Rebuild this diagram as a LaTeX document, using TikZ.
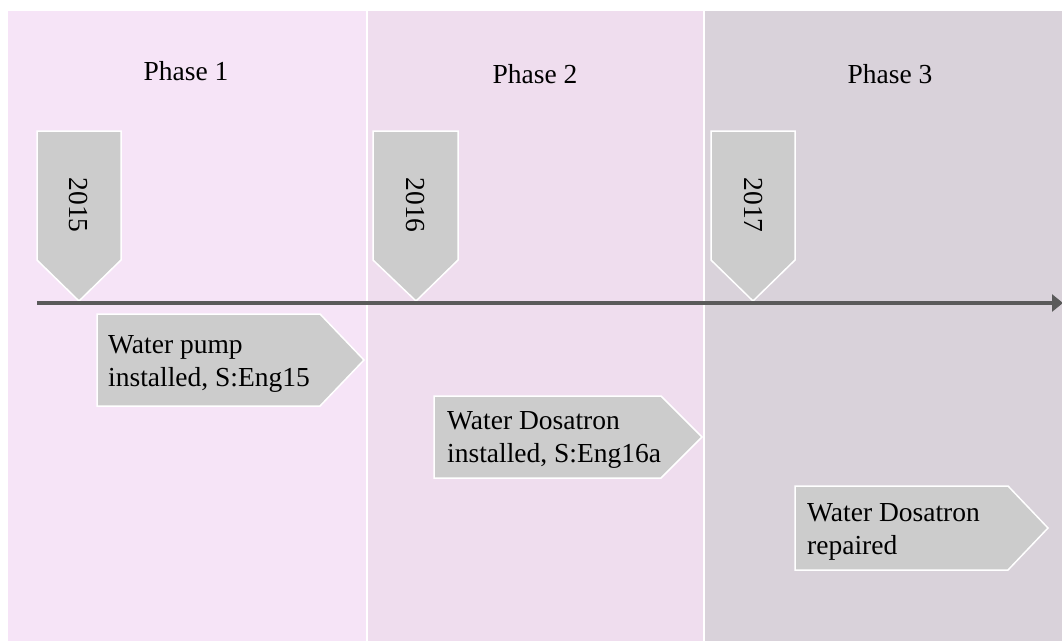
\documentclass[tikz,border=0pt]{standalone}
\usepackage{fontspec}
\setmainfont{Liberation Serif}
\usetikzlibrary{arrows.meta}

\definecolor{phaseA}{RGB}{246,228,247}
\definecolor{phaseB}{RGB}{239,221,238}
\definecolor{phaseC}{RGB}{217,210,218}
\definecolor{markfill}{RGB}{204,204,204}
\definecolor{axisgray}{RGB}{90,90,90}

\tikzset{
  phasebg/.style={fill=#1, draw=none},
  marker/.style={fill=markfill, draw=white, line width=1.5pt, line join=miter},
  phaselabel/.style={anchor=base, inner sep=0pt, font=\fontsize{27.5}{33}\selectfont},
  yearlabel/.style={rotate=-90, inner sep=0pt, font=\fontsize{27.5}{33}\selectfont},
  eventlabel/.style={anchor=north west, inner sep=0pt, align=left, font=\fontsize{27.5}{33}\selectfont},
  axis/.style={draw=axisgray, line width=3.5pt, -{Triangle[length=11pt,width=17pt]}}
}

\begin{document}
\begin{tikzpicture}[x=1pt, y=-1pt]
  \useasboundingbox (0,0) rectangle (1062,641);

  % phase backgrounds
  \fill[phasebg=phaseA] (8,10.5) rectangle (366,641);
  \fill[phasebg=phaseB] (368,10.5) rectangle (703,641);
  \fill[phasebg=phaseC] (705,10.5) rectangle (1062,641);

  % phase titles
  \node[phaselabel] (ph1) at (186,80) {Phase 1};
  \node[phaselabel] (ph2) at (535,83) {Phase 2};
  \node[phaselabel] (ph3) at (890,83) {Phase 3};

  % year markers (pointing down to the axis)
  \draw[marker] (37,131) -- (121,131) -- (121,260) -- (79,301) -- (37,260) -- cycle;
  \draw[marker] (373,131) -- (458,131) -- (458,260) -- (416,301) -- (373,260) -- cycle;
  \draw[marker] (711,131) -- (795,131) -- (795,260) -- (753,301) -- (711,260) -- cycle;
  \node[yearlabel] (y15) at (79,205) {2015};
  \node[yearlabel] (y16) at (416,205) {2016};
  \node[yearlabel] (y17) at (753,205) {2017};

  % time axis
  \coordinate (axstart) at (37,303);
  \coordinate (axend) at (1063,303);
  \draw[axis] (axstart) -- (axend);

  % events (pointing right)
  \draw[marker] (97,314) -- (320,314) -- (364,360) -- (320,406) -- (97,406) -- cycle;
  \draw[marker] (434,396) -- (661,396) -- (702,437) -- (661,478) -- (434,478) -- cycle;
  \draw[marker] (795,486) -- (1008,486) -- (1048,528) -- (1008,570) -- (795,570) -- cycle;
  \node[eventlabel] (ev1) at (108,335.5) {Water pump\\installed, S:Eng15};
  \node[eventlabel] (ev2) at (447,411.5) {Water Dosatron\\installed, S:Eng16a};
  \node[eventlabel] (ev3) at (807,503.5) {Water Dosatron\\repaired};
\end{tikzpicture}
\end{document}
